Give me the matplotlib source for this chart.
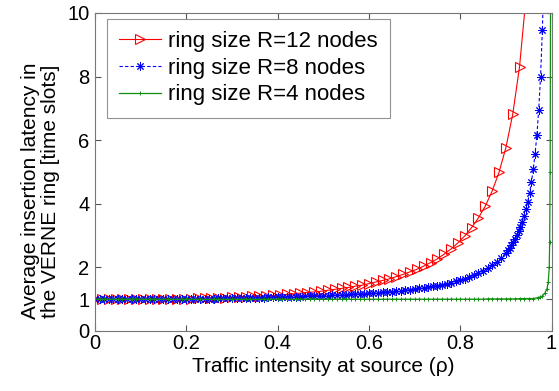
import numpy as np
import matplotlib
matplotlib.use('Agg')
from matplotlib import pyplot as plt

plt.rcParams['font.family'] = ['Liberation Sans', 'DejaVu Sans']

## Data

# R = 12 nodes, one point every 0.015 of rho
red_rho = np.round(np.arange(64) * 0.015, 3)
red_lat = [1.00, 1.00, 1.00, 1.00, 1.00, 1.00, 1.00, 1.00, 1.01, 1.01,
           1.01, 1.01, 1.02, 1.02, 1.02, 1.03, 1.03, 1.04, 1.05, 1.05,
           1.06, 1.07, 1.08, 1.09, 1.10, 1.11, 1.12, 1.14, 1.15, 1.17,
           1.19, 1.21, 1.23, 1.25, 1.28, 1.31, 1.34, 1.37, 1.41, 1.44,
           1.49, 1.54, 1.59, 1.64, 1.71, 1.78, 1.86, 1.94, 2.04, 2.15,
           2.27, 2.42, 2.58, 2.77, 2.99, 3.25, 3.56, 3.93, 4.40, 4.99,
           5.76, 6.81, 8.31, 10.63]

# R = 8 nodes, 0.01 steps up to 0.89 then 0.004 steps
blue_rho = np.round(np.concatenate([np.arange(90) * 0.01, 0.9 + np.arange(22) * 0.004]), 3)
blue_lat = [1.00, 1.00, 1.00, 1.00, 1.00, 1.00, 1.00, 1.00, 1.00, 1.00,
            1.00, 1.00, 1.00, 1.01, 1.01, 1.01, 1.01, 1.01, 1.01, 1.01,
            1.01, 1.01, 1.02, 1.02, 1.02, 1.02, 1.02, 1.03, 1.03, 1.03,
            1.03, 1.03, 1.04, 1.04, 1.04, 1.05, 1.05, 1.05, 1.06, 1.06,
            1.06, 1.07, 1.07, 1.07, 1.08, 1.08, 1.09, 1.09, 1.10, 1.10,
            1.11, 1.11, 1.12, 1.13, 1.13, 1.14, 1.15, 1.16, 1.17, 1.17,
            1.18, 1.19, 1.21, 1.22, 1.23, 1.24, 1.25, 1.27, 1.28, 1.30,
            1.32, 1.34, 1.36, 1.38, 1.40, 1.43, 1.46, 1.49, 1.52, 1.56,
            1.60, 1.64, 1.69, 1.75, 1.81, 1.89, 1.97, 2.06, 2.17, 2.31,
            2.46, 2.54, 2.61, 2.70, 2.80, 2.90, 3.01, 3.14, 3.28, 3.44,
            3.63, 3.83, 4.07, 4.35, 4.68, 5.08, 5.57, 6.17, 6.96, 8.00,
            9.46, 11.6]

# R = 4 nodes, 0.01 steps up to 0.96 then the steep end
green_rho = np.round(np.concatenate([np.arange(97) * 0.01,
                                     [0.97, 0.975, 0.98, 0.985, 0.99, 0.993, 0.995, 0.996, 0.997, 0.998]]), 3)
green_lat = [1.00, 1.00, 1.00, 1.00, 1.00, 1.00, 1.00, 1.00, 1.00, 1.00,
             1.00, 1.00, 1.00, 1.00, 1.00, 1.00, 1.00, 1.00, 1.00, 1.00,
             1.00, 1.00, 1.00, 1.00, 1.00, 1.00, 1.00, 1.00, 1.00, 1.00,
             1.00, 1.00, 1.00, 1.00, 1.00, 1.00, 1.00, 1.00, 1.00, 1.00,
             1.00, 1.00, 1.00, 1.00, 1.00, 1.00, 1.00, 1.00, 1.00, 1.00,
             1.00, 1.00, 1.00, 1.00, 1.00, 1.00, 1.00, 1.00, 1.00, 1.00,
             1.00, 1.00, 1.00, 1.00, 1.00, 1.00, 1.00, 1.00, 1.00, 1.00,
             1.00, 1.00, 1.00, 1.00, 1.00, 1.00, 1.00, 1.00, 1.00, 1.00,
             1.00, 1.00, 1.00, 1.00, 1.00, 1.00, 1.01, 1.01, 1.01, 1.01,
             1.01, 1.01, 1.01, 1.02, 1.02, 1.02, 1.02,
             1.05, 1.07, 1.10, 1.18, 1.32, 1.55, 2.0, 2.8, 5.0, 11.0]

labels = ['ring size R=12 nodes', 'ring size R=8 nodes', 'ring size R=4 nodes']
x_ticks = [0, 0.2, 0.4, 0.6, 0.8, 1]
x_ticklabels = ['0', '0.2', '0.4', '0.6', '0.8', '1']
y_ticks = [0, 1, 2, 4, 6, 8, 10]

## Plot
fig = plt.figure(figsize=(5.59, 3.91), dpi=100)
ax = fig.add_axes([95/559, 1 - 331/391, 456.5/559, 318/391])

ax.plot(red_rho, red_lat, color='red', lw=0.8, marker='>', ms=6.5,
        mfc='none', mec='red', mew=0.8, label=labels[0])
# asterisk marker like matlab '*'
ax.plot(blue_rho, blue_lat, color='blue', lw=0.8, ls=(0, (3, 2)), marker=(8, 2, 0),
        ms=6, mew=0.7, label=labels[1])
ax.plot(green_rho, green_lat, color='#109010', lw=0.9, marker='+', ms=3.5,
        mew=0.7, label=labels[2])

ax.set_xlim(0, 1)
ax.set_ylim(0, 10)
ax.set_xticks(x_ticks)
ax.set_xticklabels(x_ticklabels)
ax.set_yticks(y_ticks)

ax.tick_params(direction='in', top=True, right=True, length=4, width=0.8,
               color='#555555', labelsize=14.5)
ax.tick_params(axis='x', pad=2)
ax.tick_params(axis='y', pad=4)
for s in ax.spines.values():
    s.set_color('#777777')
    s.set_linewidth(0.8)

ax.set_xlabel('Traffic intensity at source (\u03c1)', fontsize=15, labelpad=3)
ax.set_ylabel('Average insertion latency in\nthe VERNE ring [time slots]',
              fontsize=15, linespacing=1.1)
ax.yaxis.set_label_coords(-0.076, 0.44)

leg = ax.legend(loc='upper left', bbox_to_anchor=(0.026, 0.981), borderaxespad=0,
                fontsize=16, fancybox=False, handlelength=1.9, handletextpad=0.3,
                borderpad=0.55, labelspacing=0.25)
leg.get_frame().set_edgecolor('#777777')
leg.get_frame().set_linewidth(0.8)

plt.savefig('out.png', dpi=100)
